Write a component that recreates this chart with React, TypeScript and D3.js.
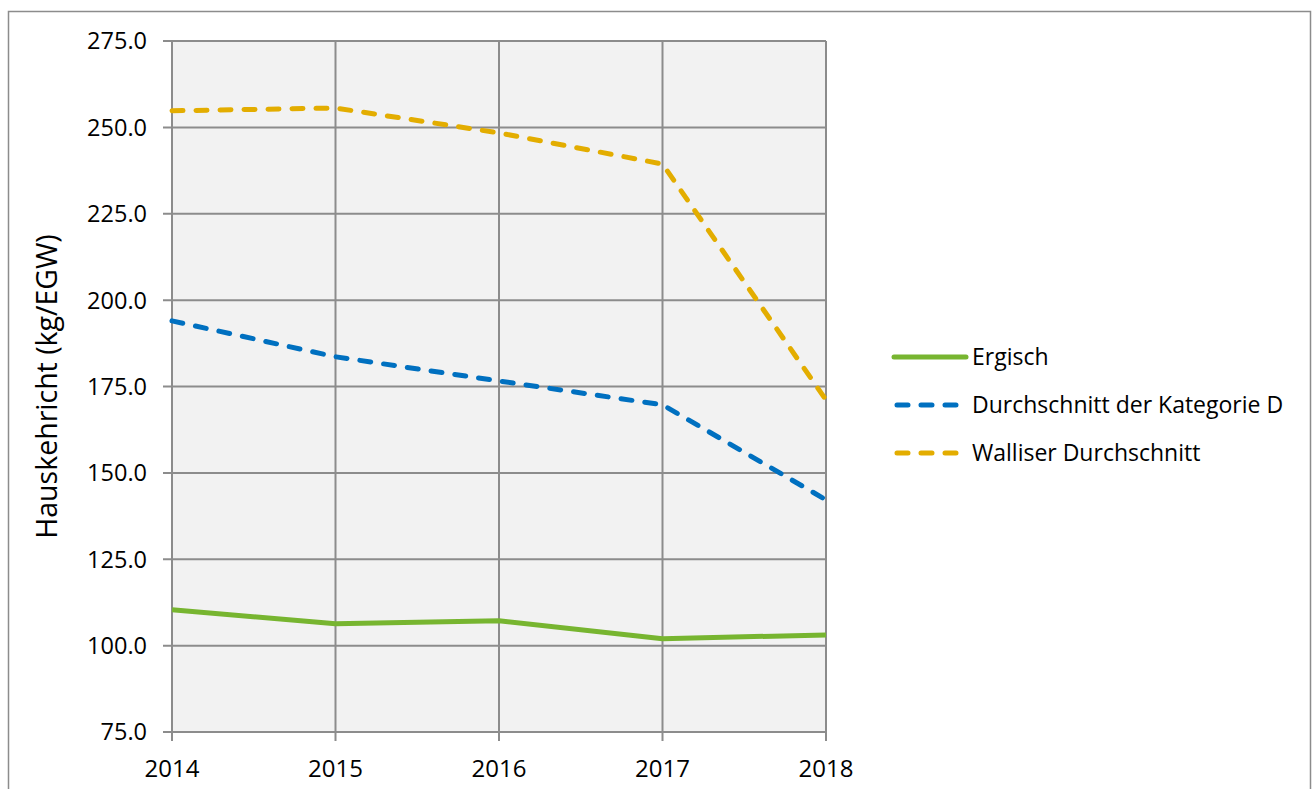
import React from "react";
import * as d3 from "d3";

// years on the x axis
const years = [2014, 2015, 2016, 2017, 2018];

// household waste per EGW
const ergisch = [110.4, 106.3, 107.2, 102.0, 103.1];
const kategorieD = [194.0, 183.6, 176.6, 169.7, 142.2];
const wallis = [254.8, 255.6, 248.4, 239.4, 171.1];

const yTicks = [75, 100, 125, 150, 175, 200, 225, 250, 275];

const series = [
  { name: "Ergisch", values: ergisch, color: "#77B530", dash: null },
  { name: "Durchschnitt der Kategorie D", values: kategorieD, color: "#0070C0", dash: "11 13" },
  { name: "Walliser Durchschnitt", values: wallis, color: "#E3AD00", dash: "11 13" },
];

const W = 1313;
const H = 789;
const plot = { left: 172, right: 826, top: 41, bottom: 732 };
const font = "'Open Sans', 'Noto Sans', sans-serif";
const gridColor = "#8C8C8C";

export default function App() {
  const x = d3.scalePoint<number>().domain(years).range([plot.left, plot.right]);
  const y = d3.scaleLinear().domain([75, 275]).range([plot.bottom, plot.top]);

  const line = d3
    .line<number>()
    .x((_, i) => x(years[i]) as number)
    .y((d) => y(d));

  return (
    <svg
      width={W}
      height={H}
      style={{ position: "absolute", left: 0, top: 0, background: "#fff" }}
      fontFamily={font}
    >
      {/* outer chart frame */}
      <rect x={8.5} y={11.5} width={1302} height={800} fill="none" stroke="#8C8C8C" strokeWidth={1.5} />

      {/* plot background */}
      <rect
        x={plot.left}
        y={plot.top}
        width={plot.right - plot.left}
        height={plot.bottom - plot.top}
        fill="#F2F2F2"
      />

      {/* horizontal grid + y ticks */}
      {yTicks.map((t) => (
        <g key={t}>
          <line x1={plot.left - 9} x2={plot.right} y1={y(t)} y2={y(t)} stroke={gridColor} strokeWidth={2} />
          <text x={plot.left - 25} y={y(t)} dy="0.36em" textAnchor="end" fontSize={23.5} fill="#000">
            {t.toFixed(1)}
          </text>
        </g>
      ))}

      {/* vertical grid + x ticks */}
      {years.map((yr) => (
        <g key={yr}>
          <line x1={x(yr)} x2={x(yr)} y1={plot.top} y2={plot.bottom + 9} stroke={gridColor} strokeWidth={2} />
          <text x={x(yr)} y={plot.bottom + 36} dy="0.36em" textAnchor="middle" fontSize={24} fill="#000">
            {yr}
          </text>
        </g>
      ))}

      {/* y axis title */}
      <text
        transform={`translate(47,${(plot.top + plot.bottom) / 2}) rotate(-90)`}
        textAnchor="middle"
        dy="0.36em"
        fontSize={28.5}
        fill="#000"
      >
        Hauskehricht (kg/EGW)
      </text>

      {/* data lines */}
      {series.map((s) => (
        <path
          key={s.name}
          d={line(s.values) || ""}
          fill="none"
          stroke={s.color}
          strokeWidth={5}
          strokeDasharray={s.dash || undefined}
          strokeLinecap={s.dash ? "round" : "butt"}
          strokeLinejoin="round"
        />
      ))}

      {/* legend */}
      {series.map((s, i) => {
        const ly = 357 + i * 48;
        return (
          <g key={s.name}>
            <line
              x1={s.dash ? 897 : 894}
              x2={s.dash ? 964 : 966}
              y1={ly}
              y2={ly}
              stroke={s.color}
              strokeWidth={5}
              strokeDasharray={s.dash || undefined}
              strokeLinecap="round"
            />
            <text x={972} y={ly} dy="0.36em" fontSize={23} fill="#000">
              {s.name}
            </text>
          </g>
        );
      })}
    </svg>
  );
}
